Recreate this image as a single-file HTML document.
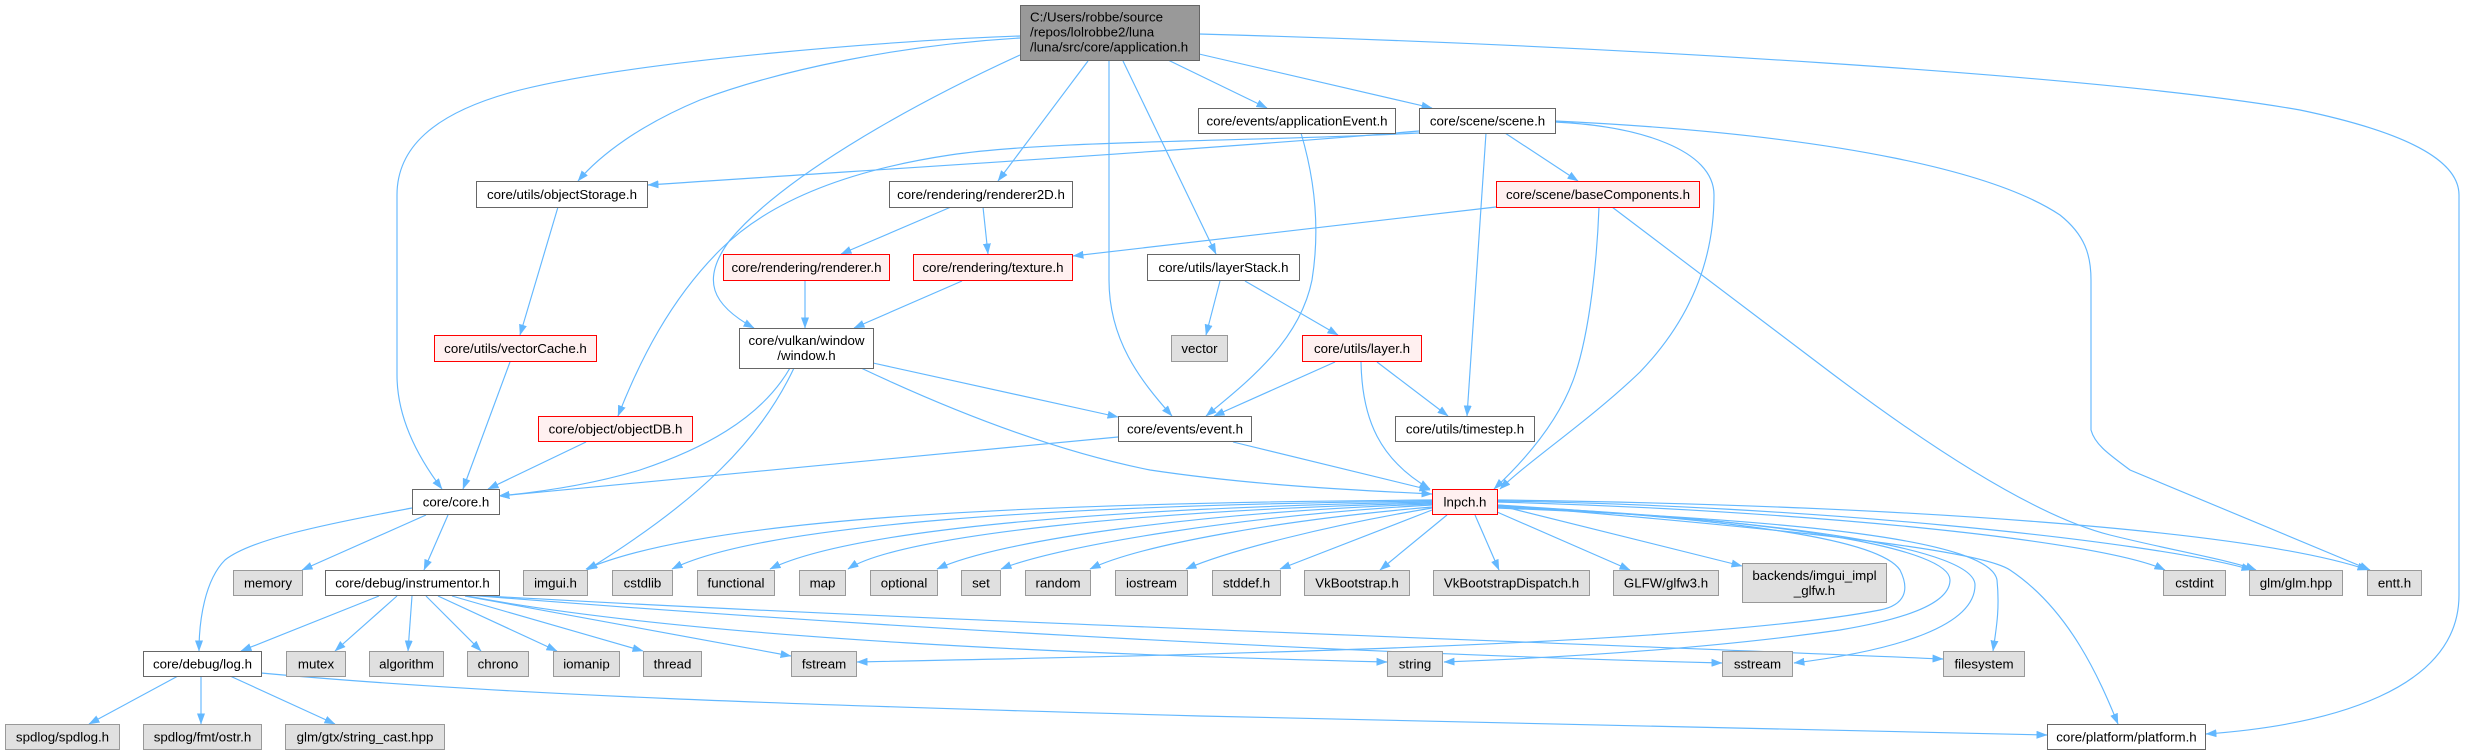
<!DOCTYPE html>
<html><head><meta charset="utf-8"><style>
html,body{margin:0;padding:0;background:#fff;}
svg{display:block;}
text{font-family:"Liberation Sans",Arial,sans-serif;font-size:13.3px;fill:#000;}
.e{fill:none;stroke:#63b8ff;stroke-width:1.15;marker-end:url(#a);}
.w{fill:#fff;stroke:#666;stroke-width:1;}
.r{fill:#fff0f0;stroke:#ff0000;stroke-width:1;}
.g{fill:#e0e0e0;stroke:#999;stroke-width:1;}
.m{fill:#999;stroke:#666;stroke-width:1;}
</style></head><body>
<svg width="2465" height="755" viewBox="0 0 2465 755" xmlns="http://www.w3.org/2000/svg">
<defs><marker id="a" markerWidth="11" markerHeight="8" refX="10.5" refY="4" orient="auto" markerUnits="userSpaceOnUse"><path d="M0,0L11,4L0,8z" fill="#63b8ff"/></marker></defs>
<g>
<!-- application edges -->
<path class="e" d="M1020,36 C900,40 640,60 520,90 C430,113 397,150 397,195 L397,375 C397,420 420,460 442,489"/>
<path class="e" d="M1020,38 C900,45 780,70 700,100 C640,125 600,155 578,181"/>
<path class="e" d="M1020,55 C900,110 780,180 730,240 C700,280 712,305 754,328"/>
<path class="e" d="M1088,61 L998,181"/>
<path class="e" d="M1109,61 L1109,280 C1109,340 1140,380 1172,416"/>
<path class="e" d="M1123,61 L1216,254"/>
<path class="e" d="M1168,60 L1267,108"/>
<path class="e" d="M1199,54 L1432,108"/>
<path class="e" d="M1199,34 C1600,45 2100,75 2300,110 C2420,135 2459,165 2459,195 L2459,595 C2459,690 2330,725 2206,734"/>
<!-- appEvent -->
<path class="e" d="M1301,133 C1315,180 1320,230 1312,280 C1300,340 1250,380 1206,416"/>
<!-- scene -->
<path class="e" d="M1419,131 C1200,150 900,168 648,185"/>
<path class="e" d="M1419,133 C1250,142 1050,140 950,155 C850,170 770,200 720,250 C670,300 640,360 618,416"/>
<path class="e" d="M1486,133 L1467,416"/>
<path class="e" d="M1505,133 L1578,181"/>
<path class="e" d="M1555,122 C1640,126 1714,150 1714,195 C1714,260 1690,320 1640,372 C1590,420 1530,460 1500,489"/>
<path class="e" d="M1555,121 C1850,135 2000,175 2060,215 C2085,235 2091,255 2091,280 L2091,430 C2095,445 2110,455 2130,470 L2370,570"/>
<!-- baseComponents -->
<path class="e" d="M1599,207 C1597,260 1590,330 1575,375 C1560,420 1525,460 1494,489"/>
<path class="e" d="M1496,207 L1073,256"/>
<path class="e" d="M1612,207 L1830,372 C1960,470 2050,520 2110,535 C2170,550 2230,560 2256,570"/>
<!-- renderer2D etc -->
<path class="e" d="M951,207 L841,254"/>
<path class="e" d="M983,207 L988,254"/>
<path class="e" d="M962,281 L854,328"/>
<path class="e" d="M805,280 L805,328"/>
<path class="e" d="M1220,281 L1206,335"/>
<path class="e" d="M1245,281 L1338,335"/>
<path class="e" d="M1335,362 L1214,416"/>
<path class="e" d="M1361,362 C1362,420 1380,460 1430,489"/>
<path class="e" d="M1377,362 L1448,416"/>
<!-- window -->
<path class="e" d="M873,363 L1118,417"/>
<path class="e" d="M861,368 C950,410 1050,450 1150,470 C1250,485 1350,490 1432,494"/>
<path class="e" d="M790,368 C760,420 700,450 640,470 C590,485 540,492 499,496"/>
<path class="e" d="M794,368 C760,440 700,500 587,570"/>
<!-- event -->
<path class="e" d="M1118,437 L499,496"/>
<path class="e" d="M1233,442 L1430,490"/>
<!-- objectDB, vectorCache, objectStorage -->
<path class="e" d="M586,442 L488,489"/>
<path class="e" d="M510,362 L463,489"/>
<path class="e" d="M558,207 L520,335"/>
<!-- core -->
<path class="e" d="M426,515 L302,570"/>
<path class="e" d="M448,515 L424,570"/>
<path class="e" d="M412,508 C320,525 250,540 225,560 C205,580 199,620 199,651"/>
<!-- instrumentor -->
<path class="e" d="M379,596 L241,651"/>
<path class="e" d="M397,596 L335,651"/>
<path class="e" d="M412,596 L408,651"/>
<path class="e" d="M426,596 L481,651"/>
<path class="e" d="M438,596 L557,651"/>
<path class="e" d="M452,596 L643,651"/>
<path class="e" d="M465,596 L791,656"/>
<path class="e" d="M467,596 C700,640 1100,655 1387,662"/>
<path class="e" d="M468,595 C900,630 1400,655 1722,663"/>
<path class="e" d="M469,595 C900,620 1500,640 1943,659"/>
<!-- log -->
<path class="e" d="M178,676 L89,724"/>
<path class="e" d="M201,676 L201,724"/>
<path class="e" d="M230,676 L335,724"/>
<path class="e" d="M261,673 C500,695 800,705 1200,716 C1600,726 1900,732 2047,735"/>
<!-- lnpch fan -->
<path class="e" d="M1432,500 C1000,503 700,520 586,569"/>
<path class="e" d="M1432,501 C1050,505 760,525 672,569"/>
<path class="e" d="M1432,502 C1100,508 850,530 770,569"/>
<path class="e" d="M1432,503 C1150,510 900,535 848,569"/>
<path class="e" d="M1432,504 C1200,512 1000,540 937,569"/>
<path class="e" d="M1432,505 C1250,515 1060,545 1001,569"/>
<path class="e" d="M1432,507 C1280,520 1140,545 1090,569"/>
<path class="e" d="M1432,508 C1330,525 1230,550 1186,569"/>
<path class="e" d="M1432,510 L1280,569"/>
<path class="e" d="M1447,515 L1380,570"/>
<path class="e" d="M1475,515 L1499,570"/>
<path class="e" d="M1497,512 L1630,570"/>
<path class="e" d="M1497,505 L1742,566"/>
<path class="e" d="M1497,502 C1800,510 2100,540 2165,570"/>
<path class="e" d="M1497,501 C1800,505 2150,540 2252,570"/>
<path class="e" d="M1497,500 C1900,505 2250,530 2368,570"/>
<path class="e" d="M1497,505 C1800,530 1980,550 2010,570 C2070,610 2100,680 2118,724"/>
<path class="e" d="M1497,505 C1750,520 1880,540 1900,570 C1910,590 1905,605 1880,610 C1700,645 1200,655 857,662"/>
<path class="e" d="M1497,506 C1800,520 1950,550 1950,580 C1950,605 1900,620 1840,630 C1700,650 1550,658 1444,662"/>
<path class="e" d="M1497,507 C1800,520 1975,550 1975,585 C1975,625 1900,650 1794,663"/>
<path class="e" d="M1497,508 C1800,520 1990,540 1997,580 C2000,610 1996,630 1993,651"/>
</g>
<g>
<!-- nodes -->
<rect class="m" x="1020.5" y="5.5" width="179" height="55"/>
<text x="1030" y="21.5">C:/Users/robbe/source</text>
<text x="1030" y="36.5">/repos/lolrobbe2/luna</text>
<text x="1030" y="51.5">/luna/src/core/application.h</text>

<rect class="w" x="1198.5" y="108.5" width="197" height="25"/><text x="1297" y="125.5" text-anchor="middle">core/events/applicationEvent.h</text>
<rect class="w" x="1419.5" y="108.5" width="136" height="25"/><text x="1487.5" y="125.5" text-anchor="middle">core/scene/scene.h</text>

<rect class="w" x="476.5" y="181.5" width="171" height="26"/><text x="562" y="199" text-anchor="middle">core/utils/objectStorage.h</text>
<rect class="w" x="889.5" y="181.5" width="183" height="26"/><text x="981" y="199" text-anchor="middle">core/rendering/renderer2D.h</text>
<rect class="r" x="1496.5" y="181.5" width="203" height="26"/><text x="1598" y="199" text-anchor="middle">core/scene/baseComponents.h</text>

<rect class="r" x="723.5" y="254.5" width="166" height="26"/><text x="806.5" y="272" text-anchor="middle">core/rendering/renderer.h</text>
<rect class="r" x="913.5" y="254.5" width="159" height="26"/><text x="993" y="272" text-anchor="middle">core/rendering/texture.h</text>
<rect class="w" x="1147.5" y="254.5" width="152" height="26"/><text x="1223.5" y="272" text-anchor="middle">core/utils/layerStack.h</text>

<rect class="r" x="434.5" y="335.5" width="162" height="26"/><text x="515.5" y="353" text-anchor="middle">core/utils/vectorCache.h</text>
<rect class="w" x="739.5" y="328.5" width="134" height="40"/><text x="806.5" y="345" text-anchor="middle">core/vulkan/window</text><text x="806.5" y="360" text-anchor="middle">/window.h</text>
<rect class="g" x="1171.5" y="335.5" width="56" height="26"/><text x="1199.5" y="353" text-anchor="middle">vector</text>
<rect class="r" x="1302.5" y="335.5" width="119" height="26"/><text x="1362" y="353" text-anchor="middle">core/utils/layer.h</text>

<rect class="r" x="538.5" y="416.5" width="154" height="25"/><text x="615.5" y="433.5" text-anchor="middle">core/object/objectDB.h</text>
<rect class="w" x="1118.5" y="416.5" width="133" height="25"/><text x="1185" y="433.5" text-anchor="middle">core/events/event.h</text>
<rect class="w" x="1395.5" y="416.5" width="139" height="25"/><text x="1465" y="433.5" text-anchor="middle">core/utils/timestep.h</text>

<rect class="w" x="412.5" y="489.5" width="87" height="25"/><text x="456" y="506.5" text-anchor="middle">core/core.h</text>
<rect class="r" x="1432.5" y="489.5" width="65" height="25"/><text x="1465" y="506.5" text-anchor="middle">lnpch.h</text>

<!-- row 8 -->
<rect class="g" x="233.5" y="570.5" width="69" height="25"/><text x="268" y="587.5" text-anchor="middle">memory</text>
<rect class="w" x="325.5" y="570.5" width="174" height="25"/><text x="412.5" y="587.5" text-anchor="middle">core/debug/instrumentor.h</text>
<rect class="g" x="523.5" y="570.5" width="64" height="25"/><text x="555.5" y="587.5" text-anchor="middle">imgui.h</text>
<rect class="g" x="612.5" y="570.5" width="60" height="25"/><text x="642.5" y="587.5" text-anchor="middle">cstdlib</text>
<rect class="g" x="697.5" y="570.5" width="77" height="25"/><text x="736" y="587.5" text-anchor="middle">functional</text>
<rect class="g" x="799.5" y="570.5" width="46" height="25"/><text x="822.5" y="587.5" text-anchor="middle">map</text>
<rect class="g" x="870.5" y="570.5" width="67" height="25"/><text x="904" y="587.5" text-anchor="middle">optional</text>
<rect class="g" x="961.5" y="570.5" width="39" height="25"/><text x="981" y="587.5" text-anchor="middle">set</text>
<rect class="g" x="1025.5" y="570.5" width="65" height="25"/><text x="1058" y="587.5" text-anchor="middle">random</text>
<rect class="g" x="1115.5" y="570.5" width="72" height="25"/><text x="1151.5" y="587.5" text-anchor="middle">iostream</text>
<rect class="g" x="1212.5" y="570.5" width="68" height="25"/><text x="1246.5" y="587.5" text-anchor="middle">stddef.h</text>
<rect class="g" x="1304.5" y="570.5" width="105" height="25"/><text x="1357" y="587.5" text-anchor="middle">VkBootstrap.h</text>
<rect class="g" x="1433.5" y="570.5" width="156" height="25"/><text x="1511.5" y="587.5" text-anchor="middle">VkBootstrapDispatch.h</text>
<rect class="g" x="1613.5" y="570.5" width="105" height="25"/><text x="1666" y="587.5" text-anchor="middle">GLFW/glfw3.h</text>
<rect class="g" x="1742.5" y="563.5" width="144" height="39"/><text x="1814.5" y="580" text-anchor="middle">backends/imgui_impl</text><text x="1814.5" y="595" text-anchor="middle">_glfw.h</text>
<rect class="g" x="2163.5" y="570.5" width="62" height="25"/><text x="2194.5" y="587.5" text-anchor="middle">cstdint</text>
<rect class="g" x="2249.5" y="570.5" width="93" height="25"/><text x="2296" y="587.5" text-anchor="middle">glm/glm.hpp</text>
<rect class="g" x="2367.5" y="570.5" width="54" height="25"/><text x="2394.5" y="587.5" text-anchor="middle">entt.h</text>

<!-- row 9 -->
<rect class="w" x="143.5" y="651.5" width="118" height="25"/><text x="202.5" y="668.5" text-anchor="middle">core/debug/log.h</text>
<rect class="g" x="286.5" y="651.5" width="59" height="25"/><text x="316" y="668.5" text-anchor="middle">mutex</text>
<rect class="g" x="369.5" y="651.5" width="74" height="25"/><text x="406.5" y="668.5" text-anchor="middle">algorithm</text>
<rect class="g" x="467.5" y="651.5" width="61" height="25"/><text x="498" y="668.5" text-anchor="middle">chrono</text>
<rect class="g" x="553.5" y="651.5" width="66" height="25"/><text x="586.5" y="668.5" text-anchor="middle">iomanip</text>
<rect class="g" x="643.5" y="651.5" width="58" height="25"/><text x="672.5" y="668.5" text-anchor="middle">thread</text>
<rect class="g" x="791.5" y="651.5" width="65" height="25"/><text x="824" y="668.5" text-anchor="middle">fstream</text>
<rect class="g" x="1387.5" y="651.5" width="55" height="25"/><text x="1415" y="668.5" text-anchor="middle">string</text>
<rect class="g" x="1722.5" y="651.5" width="70" height="25"/><text x="1757.5" y="668.5" text-anchor="middle">sstream</text>
<rect class="g" x="1943.5" y="651.5" width="81" height="25"/><text x="1984" y="668.5" text-anchor="middle">filesystem</text>

<!-- row 10 -->
<rect class="g" x="5.5" y="724.5" width="114" height="25"/><text x="62.5" y="741.5" text-anchor="middle">spdlog/spdlog.h</text>
<rect class="g" x="143.5" y="724.5" width="118" height="25"/><text x="202.5" y="741.5" text-anchor="middle">spdlog/fmt/ostr.h</text>
<rect class="g" x="285.5" y="724.5" width="159" height="25"/><text x="365" y="741.5" text-anchor="middle">glm/gtx/string_cast.hpp</text>
<rect class="w" x="2047.5" y="724.5" width="158" height="25"/><text x="2126.5" y="741.5" text-anchor="middle">core/platform/platform.h</text>
</g>
</svg>
</body></html>
